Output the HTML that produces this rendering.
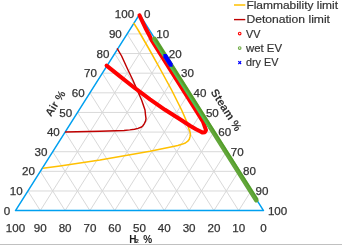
<!DOCTYPE html>
<html><head><meta charset="utf-8"><style>
html,body{margin:0;padding:0;background:#fff;}
body{width:342px;height:245px;overflow:hidden;position:relative;}
svg{position:absolute;left:0;top:0;display:block;will-change:transform;}
text{font-family:"Liberation Sans",sans-serif;}
</style></head><body>
<svg width="342" height="245" viewBox="0 0 342 245">
<rect x="0" y="0" width="342" height="245" fill="#fff"/>
<line x1="0" y1="244.5" x2="342" y2="244.5" stroke="#c0c0c0" stroke-width="1"/>
<g stroke="#d9d9d9" stroke-width="1" fill="none">
<line x1="27.90" y1="190.97" x2="251.10" y2="190.97"/>
<line x1="40.30" y1="210.60" x2="151.90" y2="33.93"/>
<line x1="238.70" y1="210.60" x2="127.10" y2="33.93"/>
<line x1="40.30" y1="171.34" x2="238.70" y2="171.34"/>
<line x1="65.10" y1="210.60" x2="164.30" y2="53.56"/>
<line x1="213.90" y1="210.60" x2="114.70" y2="53.56"/>
<line x1="52.70" y1="151.71" x2="226.30" y2="151.71"/>
<line x1="89.90" y1="210.60" x2="176.70" y2="73.19"/>
<line x1="189.10" y1="210.60" x2="102.30" y2="73.19"/>
<line x1="65.10" y1="132.08" x2="213.90" y2="132.08"/>
<line x1="114.70" y1="210.60" x2="189.10" y2="92.82"/>
<line x1="164.30" y1="210.60" x2="89.90" y2="92.82"/>
<line x1="77.50" y1="112.45" x2="201.50" y2="112.45"/>
<line x1="139.50" y1="210.60" x2="201.50" y2="112.45"/>
<line x1="139.50" y1="210.60" x2="77.50" y2="112.45"/>
<line x1="89.90" y1="92.82" x2="189.10" y2="92.82"/>
<line x1="164.30" y1="210.60" x2="213.90" y2="132.08"/>
<line x1="114.70" y1="210.60" x2="65.10" y2="132.08"/>
<line x1="102.30" y1="73.19" x2="176.70" y2="73.19"/>
<line x1="189.10" y1="210.60" x2="226.30" y2="151.71"/>
<line x1="89.90" y1="210.60" x2="52.70" y2="151.71"/>
<line x1="114.70" y1="53.56" x2="164.30" y2="53.56"/>
<line x1="213.90" y1="210.60" x2="238.70" y2="171.34"/>
<line x1="65.10" y1="210.60" x2="40.30" y2="171.34"/>
<line x1="127.10" y1="33.93" x2="151.90" y2="33.93"/>
<line x1="238.70" y1="210.60" x2="251.10" y2="190.97"/>
<line x1="40.30" y1="210.60" x2="27.90" y2="190.97"/>
</g>
<path d="M15.50,210.60 L263.50,210.60 L139.50,14.30 Z" fill="none" stroke="#00a0f0" stroke-width="1.5" stroke-linejoin="round"/>
<polyline points="42.90,168.20 60.00,166.00 100.00,160.10 150.00,151.30 172.00,146.80 177.80,145.50 182.50,144.10 185.40,143.00 187.80,141.20 189.30,139.20 190.10,136.40 190.40,133.90 190.00,131.90 188.90,129.00 187.10,122.50 181.60,110.00 171.60,90.00 160.70,70.00 149.60,50.00 138.10,30.00 133.60,22.90" fill="none" stroke="#ffc000" stroke-width="1.55" stroke-linejoin="round"/>
<polyline points="65.10,132.00 100.00,131.30 124.00,130.50 129.80,129.90 134.50,129.30 138.00,128.40 141.00,127.30 142.70,126.00 144.50,123.30 145.60,120.90 146.00,118.70 145.50,115.00 145.00,110.00 141.60,100.00 132.80,80.00 128.00,70.00 121.60,56.00 117.10,48.40" fill="none" stroke="#c00000" stroke-width="1.45" stroke-linejoin="round"/>
<polyline points="106.60,65.60 120.00,76.40 135.00,88.20 150.00,99.30 165.00,109.80 180.00,119.30 190.00,125.80 196.00,129.20 200.00,131.30 202.60,132.60 204.80,132.20 206.00,130.20 203.13,122.00 196.92,112.00 189.34,100.00 176.70,80.00 164.07,60.00 151.53,40.00 149.71,36.00 145.45,28.00 139.50,15.40" fill="none" stroke="#ff0000" stroke-width="4" stroke-linejoin="round" stroke-linecap="round"/>
<polyline points="154.38,38.80 256.33,200.20" fill="none" stroke="#62a63a" stroke-width="4.6" stroke-linecap="round"/>
<polyline points="152.98,39.80 209.32,128.00" fill="none" stroke="#45cf5c" stroke-width="1.3" stroke-linecap="butt" opacity="0.85"/>
<polyline points="155.98,39.80 257.93,199.40" fill="none" stroke="#4f9c25" stroke-width="1.6" stroke-linecap="butt" opacity="0.8"/>
<polygon points="163.37,54.00 166.67,54.00 172.61,63.40 172.61,66.70 169.31,66.70 163.37,57.30" fill="#0000ff"/>
<g font-size="11.6" fill="#333" stroke="#333" stroke-width="0.25">
<text x="10.20" y="214.70" text-anchor="end">0</text>
<text x="22.60" y="195.07" text-anchor="end">10</text>
<text x="35.00" y="175.44" text-anchor="end">20</text>
<text x="47.40" y="155.81" text-anchor="end">30</text>
<text x="59.80" y="136.18" text-anchor="end">40</text>
<text x="72.20" y="116.55" text-anchor="end">50</text>
<text x="84.60" y="96.92" text-anchor="end">60</text>
<text x="97.00" y="77.29" text-anchor="end">70</text>
<text x="109.40" y="57.66" text-anchor="end">80</text>
<text x="121.80" y="38.03" text-anchor="end">90</text>
<text x="134.20" y="18.40" text-anchor="end">100</text>
<text x="143.90" y="18.40">0</text>
<text x="156.30" y="38.03">10</text>
<text x="168.70" y="57.66">20</text>
<text x="181.10" y="77.29">30</text>
<text x="193.50" y="96.92">40</text>
<text x="205.90" y="116.55">50</text>
<text x="218.30" y="136.18">60</text>
<text x="230.70" y="155.81">70</text>
<text x="243.10" y="175.44">80</text>
<text x="255.50" y="195.07">90</text>
<text x="267.90" y="214.70">100</text>
<text x="263.50" y="231.80" text-anchor="middle">0</text>
<text x="238.70" y="231.80" text-anchor="middle">10</text>
<text x="213.90" y="231.80" text-anchor="middle">20</text>
<text x="189.10" y="231.80" text-anchor="middle">30</text>
<text x="164.30" y="231.80" text-anchor="middle">40</text>
<text x="139.50" y="231.80" text-anchor="middle">50</text>
<text x="114.70" y="231.80" text-anchor="middle">60</text>
<text x="89.90" y="231.80" text-anchor="middle">70</text>
<text x="65.10" y="231.80" text-anchor="middle">80</text>
<text x="40.30" y="231.80" text-anchor="middle">90</text>
<text x="15.50" y="231.80" text-anchor="middle">100</text>
</g>
<g font-weight="bold" fill="#1a1a1a"><text x="129.2" y="243.3" font-size="10">H</text><text x="135.6" y="243.3" font-size="6">2</text><text x="143.3" y="243.3" font-size="10">%</text></g>
<text transform="translate(55.1,103.4) rotate(-57.7)" x="0" y="3.9" text-anchor="middle" font-size="11" font-weight="bold" fill="#333">Air %</text>
<text transform="translate(226.3,110.0) rotate(57.7)" x="0" y="3.9" text-anchor="middle" font-size="11.4" font-weight="bold" fill="#333">Steam %</text>
<g font-size="11.6" fill="#333">
<line x1="234" y1="5.0" x2="245.3" y2="5.0" stroke="#ffc000" stroke-width="1.5"/>
<text x="246.4" y="8.8" stroke="#333" stroke-width="0.2" textLength="91.6" lengthAdjust="spacingAndGlyphs">Flammability limit</text>
<line x1="234" y1="19.6" x2="245.3" y2="19.6" stroke="#c00000" stroke-width="1.4"/>
<text x="246.4" y="23.2" stroke="#333" stroke-width="0.2" textLength="83.6" lengthAdjust="spacingAndGlyphs">Detonation limit</text>
<circle cx="239.7" cy="33.6" r="1.3" fill="none" stroke="#ff0000" stroke-width="1.1"/>
<text x="246.0" y="37.6" stroke="#333" stroke-width="0.2" textLength="14.4" lengthAdjust="spacingAndGlyphs">VV</text>
<circle cx="239.7" cy="48.1" r="1.3" fill="none" stroke="#70ad47" stroke-width="1.1"/>
<text x="246.0" y="52.1" stroke="#333" stroke-width="0.2" textLength="36.0" lengthAdjust="spacingAndGlyphs">wet EV</text>
<path d="M238.3,61.2 L241.1,64.0 M241.1,61.2 L238.3,64.0" stroke="#0000ff" stroke-width="1.2"/><rect x="239.1" y="62.0" width="1.2" height="1.2" fill="#0000ff"/>
<text x="246.0" y="66.1" stroke="#333" stroke-width="0.2" textLength="32.4" lengthAdjust="spacingAndGlyphs">dry EV</text>
</g>
</svg>
</body></html>
